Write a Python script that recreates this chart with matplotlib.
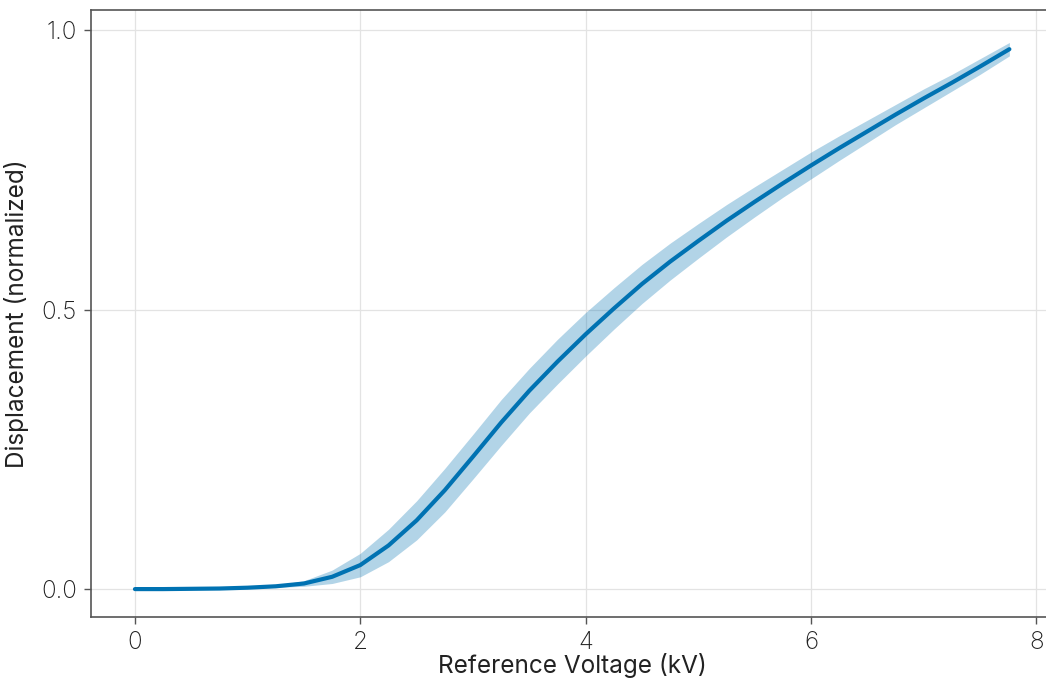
import matplotlib.pyplot as plt
import numpy as np

# mean response
voltage_kv = [0.0, 0.25, 0.5, 0.75, 1.0, 1.25, 1.5, 1.75, 2.0, 2.25, 2.5, 2.75,
              3.0, 3.25, 3.5, 3.75, 4.0, 4.25, 4.5, 4.75, 5.0, 5.25, 5.5, 5.75,
              6.0, 6.25, 6.5, 6.75, 7.0, 7.25, 7.5, 7.76]
displacement = [0.0, 0.0, 0.0005, 0.001, 0.0025, 0.005, 0.010, 0.022, 0.043,
                0.078, 0.123, 0.177, 0.237, 0.298, 0.355, 0.407, 0.456, 0.502,
                0.546, 0.586, 0.623, 0.659, 0.693, 0.726, 0.758, 0.789, 0.819,
                0.849, 0.878, 0.906, 0.935, 0.966]
# half width of the shaded band
spread = [0.0, 0.0, 0.0, 0.0005, 0.001, 0.002, 0.005, 0.012, 0.021, 0.029,
          0.035, 0.039, 0.040, 0.041, 0.040, 0.040, 0.039, 0.037, 0.035,
          0.033, 0.031, 0.029, 0.027, 0.025, 0.024, 0.022, 0.020, 0.018,
          0.017, 0.015, 0.014, 0.012]

X_TICKS = [0, 2, 4, 6, 8]
Y_TICKS = [0.0, 0.5, 1.0]
Y_TICK_LABELS = ['0.0', '0.5', '1.0']

LINE_COLOR = '#0072B2'
FONT_SIZE = 17.5

plt.rcParams['font.family'] = ['Inter', 'DejaVu Sans']
plt.rcParams['font.weight'] = 'light'

x = np.array(voltage_kv)
y = np.array(displacement)
s = np.array(spread)

fig = plt.figure(figsize=(10.46, 6.8), dpi=100)
ax = fig.add_axes([0.087, 0.0926, 0.92, 0.8926])

ax.fill_between(x, y - s, y + s, color=LINE_COLOR, alpha=0.3, linewidth=0)
ax.plot(x, y, color=LINE_COLOR, linewidth=3, solid_capstyle='round',
        solid_joinstyle='round')

ax.set_xlim(-0.39, 8.15)
ax.set_ylim(-0.05, 1.036)
ax.set_xticks(X_TICKS)
ax.set_yticks(Y_TICKS)
ax.set_yticklabels(Y_TICK_LABELS)

ax.grid(True, color='#e3e3e3', linewidth=0.9)
ax.set_axisbelow(True)
for sp in ax.spines.values():
    sp.set_color('#555555')
    sp.set_linewidth(1.2)
ax.tick_params(axis='both', labelsize=FONT_SIZE, length=5, width=1,
               color='#555555', labelcolor='#222222', pad=5)

ax.set_xlabel('Reference Voltage (kV)', fontsize=FONT_SIZE, color='#222222', labelpad=-1)
ax.set_ylabel('Displacement (normalized)', fontsize=FONT_SIZE, color='#222222', labelpad=9)

fig.savefig('out.png', dpi=100)
